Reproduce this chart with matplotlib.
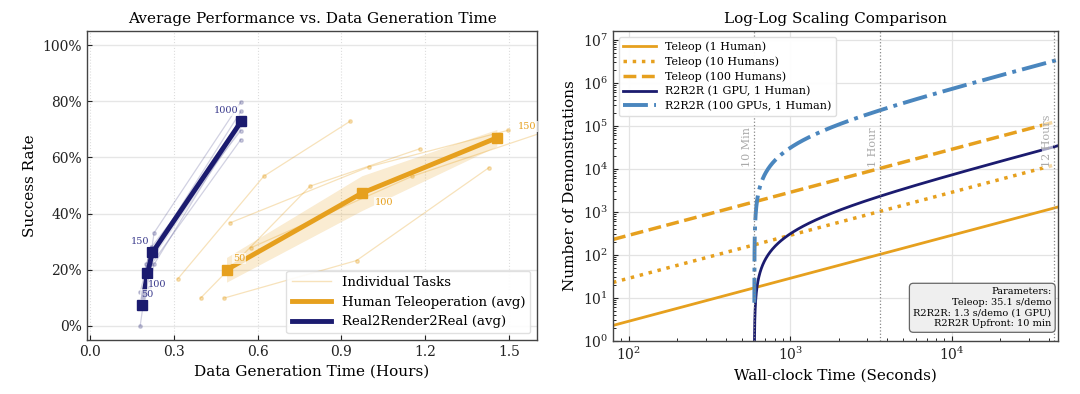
import numpy as np
import matplotlib
matplotlib.use("Agg")
import matplotlib.pyplot as plt
from matplotlib.ticker import PercentFormatter
from matplotlib.lines import Line2D

plt.rcParams['font.family'] = ['DejaVu Serif']
plt.rcParams['mathtext.fontset'] = 'dejavuserif'

ORANGE = '#E6A01E'
NAVY = '#1B1B6F'
STEEL = '#4A86BE'

# ---- left panel data (hours, success %) ----
r2r_demos = [50, 100, 150, 1000]
r2r_avg_time = [0.186, 0.206, 0.224, 0.542]
r2r_avg_succ = [7.3, 18.7, 26.2, 72.9]
r2r_band = [1.5, 2.0, 2.0, 2.0]
r2r_task_time = [
    [0.18, 0.20, 0.22, 0.54],
    [0.19, 0.21, 0.23, 0.54],
    [0.19, 0.20, 0.22, 0.54],
    [0.18, 0.21, 0.22, 0.54],
    [0.19, 0.21, 0.23, 0.54],
]
r2r_task_succ = [
    [0.0, 14.0, 22.0, 66.4],
    [10.0, 20.0, 33.2, 79.7],
    [8.0, 22.0, 26.0, 76.4],
    [12.0, 24.0, 28.0, 69.6],
    [6.5, 13.5, 22.0, 72.5],
]

tele_demos = [50, 100, 150]
tele_avg_time = [0.489, 0.973, 1.456]
tele_avg_succ = [20.0, 47.3, 67.0]
tele_band = [4.4, 6.2, 3.0]
tele_task_time = [
    [0.314, 0.622, 0.931],
    [0.396, 0.788, 1.180],
    [0.501, 0.999, 1.497],
    [0.479, 0.954, 1.428],
    [0.575, 1.153, 1.700],
]
tele_task_succ = [
    [16.7, 53.3, 72.9],
    [9.9, 49.8, 63.1],
    [36.7, 56.7, 69.7],
    [9.9, 23.3, 56.4],
    [27.8, 53.3, 71.6],
]

# ---- right panel parameters ----
teleop_sec_per_demo = 35.1
r2r_sec_per_demo = 1.3
r2r_upfront_sec = 600
teleop_humans = [1, 10, 100]
r2r_gpus = [1, 100]
markers_sec = [600, 3600, 43200]
markers_txt = ['10 Min', '1 Hour', '12 Hours']

fig = plt.figure(figsize=(10.8, 3.94), dpi=100)
ax1 = fig.add_axes([0.0806, 0.137, 0.4167, 0.784])
ax2 = fig.add_axes([0.5676, 0.135, 0.412, 0.786])

for ax in (ax1, ax2):
    for s in ax.spines.values():
        s.set_color('#444444')
        s.set_linewidth(1.0)
    ax.tick_params(direction='in', colors='#222222', labelsize=10)
    ax.set_axisbelow(True)

# ---------------- left ----------------
for tx, ty in zip(tele_task_time, tele_task_succ):
    ax1.plot(tx, ty, color=ORANGE, alpha=0.3, lw=0.9, marker='o', ms=2.5)
for tx, ty in zip(r2r_task_time, r2r_task_succ):
    ax1.plot(tx, ty, color=NAVY, alpha=0.2, lw=0.9, marker='o', ms=2.5)

ta, ts, tb = np.array(tele_avg_time), np.array(tele_avg_succ), np.array(tele_band)
ax1.fill_between(ta, ts - tb, ts + tb, color=ORANGE, alpha=0.2, lw=0)
ra, rs, rb = np.array(r2r_avg_time), np.array(r2r_avg_succ), np.array(r2r_band)
ax1.fill_between(ra, rs - rb, rs + rb, color=NAVY, alpha=0.12, lw=0)

ax1.plot(tele_avg_time, tele_avg_succ, color=ORANGE, lw=3.5, marker='s', ms=7)
ax1.plot(r2r_avg_time, r2r_avg_succ, color=NAVY, lw=3.5, marker='s', ms=7)

r2r_off = [(4, 8), (7, -8), (-9, 8), (-11, 8)]
for d, x, y, o in zip(r2r_demos, r2r_avg_time, r2r_avg_succ, r2r_off):
    ax1.annotate(str(d), (x, y), xytext=o, textcoords='offset points',
                 ha='center', va='center', fontsize=7, color='#3a3a8c',
                 bbox=dict(boxstyle='square,pad=0.1', fc='white', ec='none', alpha=0.7))
tele_off = [(9, 8), (16, -7), (22, 8)]
for d, x, y, o in zip(tele_demos, tele_avg_time, tele_avg_succ, tele_off):
    ax1.annotate(str(d), (x, y), xytext=o, textcoords='offset points',
                 ha='center', va='center', fontsize=7, color=ORANGE,
                 bbox=dict(boxstyle='square,pad=0.1', fc='white', ec='none', alpha=0.7))

ax1.set_xlim(-0.01, 1.6)
ax1.set_ylim(-5, 105)
ax1.set_xticks([0.0, 0.3, 0.6, 0.9, 1.2, 1.5])
ax1.set_yticks([0, 20, 40, 60, 80, 100])
ax1.yaxis.set_major_formatter(PercentFormatter(decimals=0))
ax1.grid(axis='y', color='#e6e6e6', lw=1.0)
ax1.grid(axis='x', color='#dddddd', lw=0.8, ls=':')
ax1.set_xlabel('Data Generation Time (Hours)', fontsize=11)
ax1.set_ylabel('Success Rate', fontsize=11)
ax1.set_title('Average Performance vs. Data Generation Time', fontsize=11)

handles = [
    Line2D([], [], color=ORANGE, alpha=0.3, lw=1),
    Line2D([], [], color=ORANGE, lw=3.5),
    Line2D([], [], color=NAVY, lw=3.5),
]
ax1.legend(handles, ['Individual Tasks', 'Human Teleoperation (avg)', 'Real2Render2Real (avg)'],
           loc='lower right', fontsize=9.5, framealpha=0.9, edgecolor='#dddddd',
           handlelength=3)

# ---------------- right ----------------
t = np.geomspace(80, 45000, 600)
t2 = np.concatenate([np.geomspace(r2r_upfront_sec + 0.1, 700, 200), np.geomspace(700, 45000, 400)])

styles = ['-', ':', '--']
widths = [2.0, 2.5, 2.5]
for h, ls, lw in zip(teleop_humans, styles, widths):
    lab = 'Teleop (%d Human%s)' % (h, '' if h == 1 else 's')
    ax2.plot(t, h * t / teleop_sec_per_demo, color=ORANGE, ls=ls, lw=lw, label=lab)

gpu_colors = [NAVY, STEEL]
gpu_ls = ['-', '-.']
gpu_lw = [2.0, 2.8]
for g, c, ls, lw in zip(r2r_gpus, gpu_colors, gpu_ls, gpu_lw):
    lab = 'R2R2R (%d GPU%s, 1 Human)' % (g, '' if g == 1 else 's')
    ax2.plot(t2, g * (t2 - r2r_upfront_sec) / r2r_sec_per_demo, color=c, ls=ls, lw=lw, label=lab)

for ms, mt in zip(markers_sec, markers_txt):
    ax2.axvline(ms, color='#888888', ls=':', lw=0.9)
    ax2.text(ms * 0.97, 1.1e4, mt, rotation=90, ha='right', va='bottom',
             fontsize=8, color='#aaaaaa',
             bbox=dict(boxstyle='square,pad=0.05', fc='white', ec='none', alpha=0.6))

ax2.set_xscale('log')
ax2.set_yscale('log')
ax2.set_xlim(80, 45500)
ax2.set_ylim(1, 1.6e7)
ax2.grid(which='major', color='#e3e3e3', lw=0.9)
ax2.tick_params(which='minor', direction='in')
ax2.set_xlabel('Wall-clock Time (Seconds)', fontsize=11)
ax2.set_ylabel('Number of Demonstrations', fontsize=11)
ax2.set_title('Log-Log Scaling Comparison', fontsize=11)
ax2.legend(loc='upper left', fontsize=8, framealpha=0.95, edgecolor='#dddddd',
           handlelength=3, labelspacing=0.4)

ax2.text(0.985, 0.04,
         'Parameters:\nTeleop: %.1f s/demo\nR2R2R: %.1f s/demo (1 GPU)\nR2R2R Upfront: %d min'
         % (teleop_sec_per_demo, r2r_sec_per_demo, r2r_upfront_sec // 60),
         transform=ax2.transAxes, ha='right', va='bottom', fontsize=7, linespacing=1.25,
         bbox=dict(boxstyle='round,pad=0.4', fc='#efefef', ec='#666666', lw=0.9))

fig.savefig('out.png', dpi=100)
